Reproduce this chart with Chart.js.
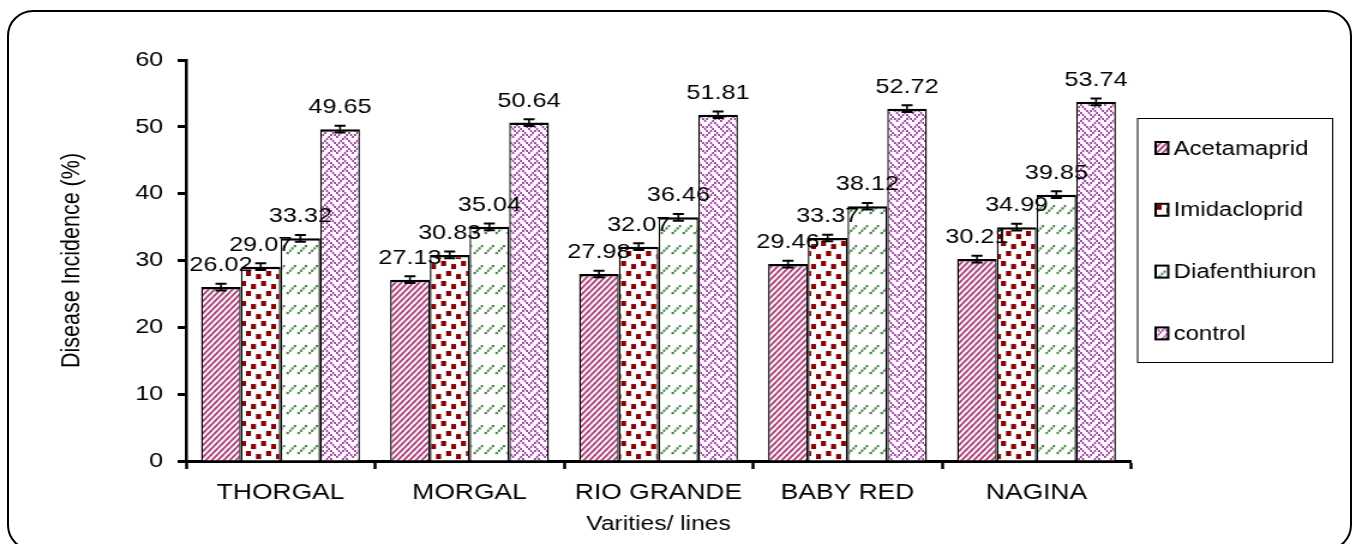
<!DOCTYPE html>
<html>
<head>
<meta charset="utf-8">
<script src="https://cdn.jsdelivr.net/npm/chart.js@4.4.1/dist/chart.umd.min.js"></script>
<style>
  html, body { margin:0; padding:0; background:#fff; overflow:hidden; width:1354px; height:544px; }
  #wrap { position:absolute; left:0; top:0; width:1128px; height:544px; transform:scaleX(1.2); transform-origin:0 0; }
  #frame { position:absolute; left:7px; top:10px; width:1345px; height:541px; box-sizing:border-box;
           border:2px solid #000; border-radius:26px; pointer-events:none; }
</style>
</head>
<body>
<div id="wrap"><canvas id="c" width="1128" height="544" style="width:1128px;height:544px"></canvas></div>
<div id="frame"></div>
<script>
// ---------------- data ----------------
const categories = ['THORGAL', 'MORGAL', 'RIO GRANDE', 'BABY RED', 'NAGINA'];
const seriesNames = ['Acetamaprid', 'Imidacloprid', 'Diafenthiuron', 'control'];
const acetamaprid   = [26.02, 27.13, 27.98, 29.46, 30.21];
const imidacloprid  = [29.07, 30.83, 32.07, 33.37, 34.99];
const diafenthiuron = [33.32, 35.04, 36.46, 38.12, 39.85];
const control       = [49.65, 50.64, 51.81, 52.72, 53.74];
const errAcetamaprid   = [0.5, 0.5, 0.5, 0.5, 0.5];
const errImidacloprid  = [0.5, 0.5, 0.5, 0.5, 0.5];
const errDiafenthiuron = [0.5, 0.5, 0.5, 0.5, 0.5];
const errControl       = [0.5, 0.5, 0.5, 0.5, 0.5];
const yTicks = [0, 10, 20, 30, 40, 50, 60];
const xTitle = 'Varities/ lines';
const yTitle = 'Disease Incidence (%)';

// ---------------- patterns ----------------
const SX = 1.2; // horizontal stretch of the whole page
function makeTile(w, h, draw) {
  const c = document.createElement('canvas');
  c.width = w; c.height = h;
  const g = c.getContext('2d');
  g.fillStyle = '#fff'; g.fillRect(0, 0, w, h);
  draw(g);
  return c;
}
function toPattern(tile) {
  const p = document.createElement('canvas').getContext('2d').createPattern(tile, 'repeat');
  p.setTransform(new DOMMatrix([1 / SX, 0, 0, 1, 0, 0]));
  return p;
}
function bitmap(rows, scale, color) {
  return makeTile(8 * scale, 8 * scale, g => {
    g.fillStyle = color;
    rows.forEach((r, y) => {
      for (let x = 0; x < 8; x++) if (r & (0x80 >> x)) g.fillRect(x * scale, y * scale, scale, scale);
    });
  });
}
const patAcet = toPattern(makeTile(6, 6, g => {
  g.strokeStyle = '#aa3f7b'; g.lineWidth = 2; g.beginPath();
  for (const o of [-6, 0, 6]) { g.moveTo(o - 1, 7); g.lineTo(o + 7, -1); }
  g.stroke();
}));
const patImid = toPattern(makeTile(20, 20, g => {
  g.fillStyle = '#8b0000';
  const s = 5;
  [[1, 1], [11, 4], [6, 11], [16, 14]].forEach(([x, y]) => {
    g.fillRect(x, y, s, s);
    if (x + s > 20) g.fillRect(x - 20, y, s, s);
    if (y + s > 20) g.fillRect(x, y - 20, s, s);
  });
}));
const patDiaf = toPattern(makeTile(11, 20, g => {
  g.fillStyle = '#357a35';
  for (let i = 0; i < 4; i++) g.fillRect(7.8 - i * 2.4, 5 + i * 2.3, 2.2, 2.2);
}));
const patCtrl = toPattern(bitmap([0x88, 0x54, 0x22, 0x45, 0x88, 0x14, 0x22, 0x51], 2, '#9b3a9f'));

const seriesValues = [acetamaprid, imidacloprid, diafenthiuron, control];
const seriesErrors = [errAcetamaprid, errImidacloprid, errDiafenthiuron, errControl];
const seriesFills  = [patAcet, patImid, patDiaf, patCtrl];

const FONT = "'Liberation Sans', Arial, sans-serif";

// ---------------- plugins ----------------
const overlay = {
  id: 'overlay',
  afterDatasetsDraw(chart) {
    const ctx = chart.ctx, ys = chart.scales.y;
    ctx.save();
    ctx.strokeStyle = '#000';
    chart.data.datasets.forEach((ds, i) => {
      const meta = chart.getDatasetMeta(i);
      meta.data.forEach((el, j) => {
        const v = ds.data[j], e = ds.errors[j];
        const yt = ys.getPixelForValue(v + e), yb = ys.getPixelForValue(v - e);
        ctx.lineWidth = 1.6;
        ctx.beginPath(); ctx.moveTo(el.x, yt); ctx.lineTo(el.x, yb); ctx.stroke();
        ctx.lineWidth = 2;
        ctx.beginPath();
        ctx.moveTo(el.x - 4.6, yt); ctx.lineTo(el.x + 4.6, yt);
        ctx.moveTo(el.x - 4.6, yb); ctx.lineTo(el.x + 4.6, yb);
        ctx.stroke();
      });
    });
    ctx.fillStyle = '#000';
    ctx.font = '21px ' + FONT;
    ctx.textAlign = 'center'; ctx.textBaseline = 'alphabetic';
    chart.data.datasets.forEach((ds, i) => {
      const meta = chart.getDatasetMeta(i);
      meta.data.forEach((el, j) => {
        const v = ds.data[j], e = ds.errors[j];
        ctx.fillText(v.toFixed(2), el.x, ys.getPixelForValue(v + e) - 12.5);
      });
    });
    ctx.restore();
  },
  afterDraw(chart) {
    const ctx = chart.ctx, ca = chart.chartArea;
    const left = ca.right + 5.5, right = left + 162.5, top = 118, bottom = 362;
    ctx.save();
    ctx.strokeStyle = '#000'; ctx.lineWidth = 1;
    ctx.strokeRect(left, top + 0.5, right - left, bottom - top);
    ctx.font = '20px ' + FONT; ctx.textAlign = 'left'; ctx.textBaseline = 'middle';
    chart.data.datasets.forEach((ds, i) => {
      const cy = 148 + i * 61.8;
      const bx = left + 15, by = cy - 6;
      ctx.save();
      ctx.translate(bx, by);
      ctx.fillStyle = ds.backgroundColor;
      ctx.fillRect(0, 0, 10.5, 12);
      ctx.restore();
      ctx.lineWidth = 2; ctx.strokeStyle = '#000';
      ctx.strokeRect(bx, by, 10.5, 12);
      ctx.fillStyle = '#000';
      ctx.fillText(ds.label, left + 30, cy + 1);
    });
    ctx.restore();
  }
};

// ---------------- chart ----------------
new Chart(document.getElementById('c'), {
  type: 'bar',
  data: {
    labels: categories,
    datasets: seriesNames.map((name, i) => ({
      label: name,
      data: seriesValues[i],
      errors: seriesErrors[i],
      backgroundColor: seriesFills[i],
      borderColor: '#000',
      borderWidth: { top: 2.5, left: 1.4, right: 1.4, bottom: 0 },
      borderSkipped: false,
      categoryPercentage: 0.84,
      barPercentage: 1.0
    }))
  },
  options: {
    responsive: false,
    devicePixelRatio: 1,
    animation: false,
    layout: { padding: { left: 0, top: 60, right: 185.5, bottom: 0 } },
    plugins: { legend: { display: false }, tooltip: { enabled: false } },
    scales: {
      x: {
        z: 1,
        grid: { offset: true, drawOnChartArea: false, drawTicks: true, tickLength: 8, tickWidth: 2.5, tickColor: '#000' },
        border: { display: true, color: '#000', width: 3 },
        ticks: { color: '#000', font: { family: FONT, size: 22 }, padding: 11, maxRotation: 0, autoSkip: false },
        title: { display: true, text: xTitle, color: '#000', font: { family: FONT, size: 20.5 }, padding: { top: 7, bottom: 7 } },
        afterFit(s) { s.height = 83; }
      },
      y: {
        z: 1,
        min: yTicks[0], max: yTicks[yTicks.length - 1],
        afterBuildTicks(s) { s.ticks = yTicks.map(v => ({ value: v })); },
        grid: { drawOnChartArea: false, drawTicks: true, tickLength: 7, tickWidth: 3, tickColor: '#000' },
        border: { display: true, color: '#000', width: 2.5 },
        ticks: { color: '#000', font: { family: FONT, size: 21 }, padding: 12 },
        title: { display: true, text: yTitle, color: '#000', font: { family: FONT, size: 21.5 }, padding: { top: 47, bottom: 47 } },
        afterFit(s) { s.width = 155; }
      }
    }
  },
  plugins: [overlay]
});
</script>
</body>
</html>
